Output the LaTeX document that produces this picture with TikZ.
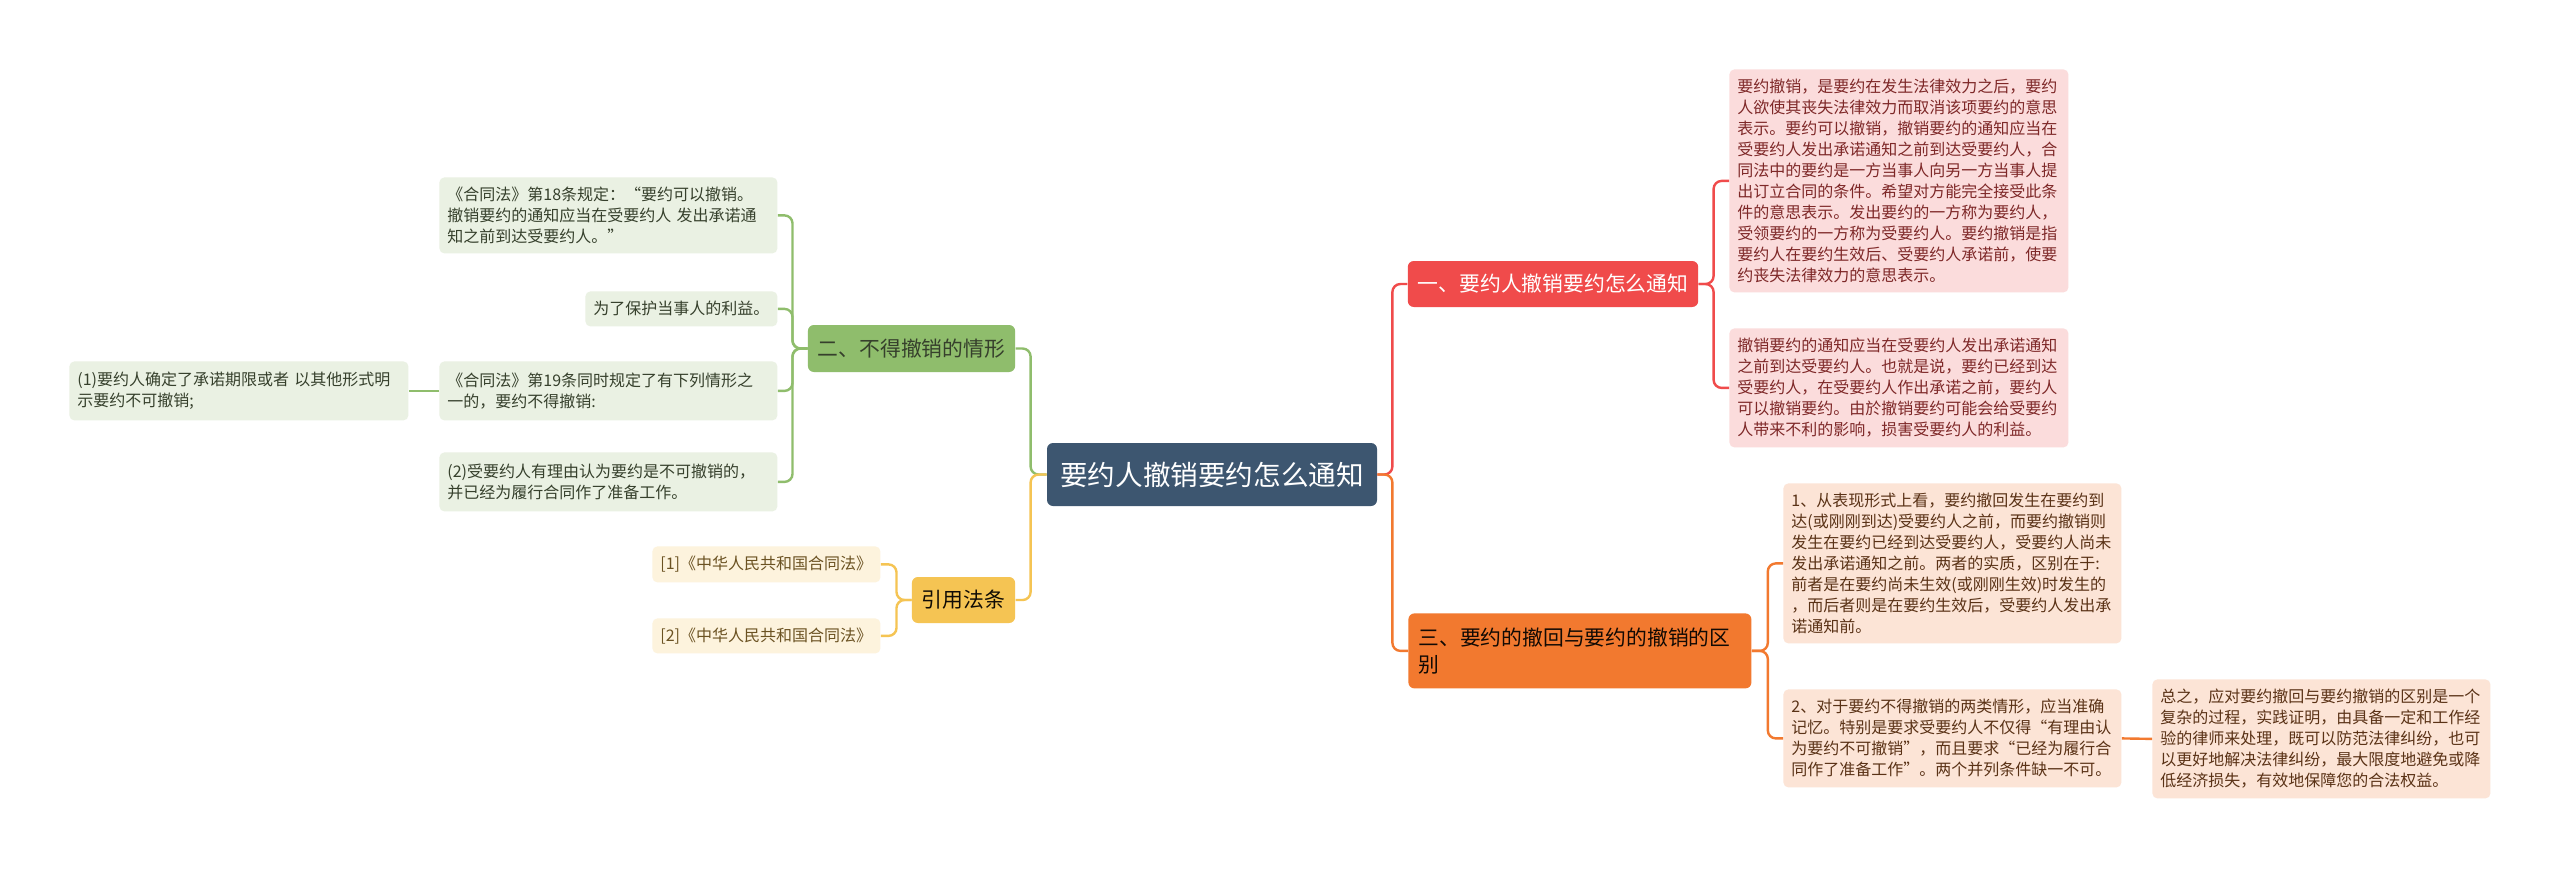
\documentclass[tikz,border=0pt]{standalone}
\usepackage{fontspec}
\setmainfont{Noto Sans CJK SC}
\usetikzlibrary{positioning}
\definecolor{rootcol}{HTML}{3D5670}
\definecolor{redcol}{HTML}{F04B4B}
\definecolor{redleaf}{HTML}{FBDCDC}
\definecolor{redtxt}{HTML}{7E2828}
\definecolor{orgcol}{HTML}{F2792F}
\definecolor{orgleaf}{HTML}{FCE4D6}
\definecolor{orgtxt}{HTML}{5A3216}
\definecolor{grncol}{HTML}{8FBD6C}
\definecolor{grnleaf}{HTML}{EAF1E3}
\definecolor{grntxt}{HTML}{36402C}
\definecolor{ylwcol}{HTML}{F5C453}
\definecolor{ylwleaf}{HTML}{FDF3DD}
\definecolor{ylwtxt}{HTML}{6B5222}
\newcommand{\leaffont}{\fontsize{8pt}{10.5pt}\selectfont}
\newcommand{\topicfont}{\fontsize{10.4pt}{13.5pt}\selectfont}
\tikzset{
  rootnode/.style={rectangle,fill=rootcol,text=white,rounded corners=3pt,
    minimum width=165pt,minimum height=31.5pt,font=\fontsize{13.8pt}{16pt}\selectfont},
  topic/.style={rectangle,rounded corners=3pt,inner xsep=5pt,inner ysep=2pt,font=\topicfont},
  leaf/.style={rectangle,rounded corners=2.5pt,inner xsep=4pt,inner ysep=2pt,
    align=left,font=\leaffont},
  rleaf/.style={leaf,fill=redleaf,text=redtxt},
  oleaf/.style={leaf,fill=orgleaf,text=orgtxt},
  gleaf/.style={leaf,fill=grnleaf,text=grntxt},
  yleaf/.style={leaf,fill=ylwleaf,text=ylwtxt},
  link/.style={line width=1.2pt,rounded corners=4pt},
}

\begin{document}
\begin{tikzpicture}[x=0.5pt,y=-0.5pt]
  \useasboundingbox[fill=white] (0,0) rectangle (2560,868);
  % centre
  \node[rootnode] (root) at (1212,474.5) {要约人撤销要约怎么通知};
  % right side
  \node[topic,fill=redcol,text=white,minimum width=145pt,minimum height=23pt] (red) at (1553,284)
       {一、要约人撤销要约怎么通知};
  \node[topic,fill=orgcol,text=black!80!orgtxt,text width=161.5pt,align=left,minimum height=37.5pt,
        anchor=north west] (org) at (1408,613)
       {三、要约的撤回与要约的撤销的区\\别};
  \node[rleaf,text width=161.5pt,minimum height=111.5pt,anchor=north west] (red1) at (1729,69)
       {要约撤销，是要约在发生法律效力之后，要约\\
        人欲使其丧失法律效力而取消该项要约的意思\\
        表示。要约可以撤销，撤销要约的通知应当在\\
        受要约人发出承诺通知之前到达受要约人，合\\
        同法中的要约是一方当事人向另一方当事人提\\
        出订立合同的条件。希望对方能完全接受此条\\
        件的意思表示。发出要约的一方称为要约人，\\
        受领要约的一方称为受要约人。要约撤销是指\\
        要约人在要约生效后、受要约人承诺前，使要\\
        约丧失法律效力的意思表示。};
  \node[rleaf,text width=161.5pt,minimum height=59.5pt,anchor=north west] (red2) at (1729,328)
       {撤销要约的通知应当在受要约人发出承诺通知\\
        之前到达受要约人。也就是说，要约已经到达\\
        受要约人，在受要约人作出承诺之前，要约人\\
        可以撤销要约。由於撤销要约可能会给受要约\\
        人带来不利的影响，损害受要约人的利益。};
  \node[oleaf,text width=161pt,minimum height=80pt,anchor=north west] (org1) at (1783,483)
       {1、从表现形式上看，要约撤回发生在要约到\\
        达(或刚刚到达)受要约人之前，而要约撤销则\\
        发生在要约已经到达受要约人，受要约人尚未\\
        发出承诺通知之前。两者的实质，区别在于:\\
        前者是在要约尚未生效(或刚刚生效)时发生的\\
        ，而后者则是在要约生效后，受要约人发出承\\
        诺通知前。};
  \node[oleaf,text width=161pt,minimum height=49pt,anchor=north west] (org2) at (1783,689)
       {2、对于要约不得撤销的两类情形，应当准确\\
        记忆。特别是要求受要约人不仅得“有理由认\\
        为要约不可撤销”，而且要求“已经为履行合\\
        同作了准备工作”。两个并列条件缺一不可。};
  \node[oleaf,text width=161pt,minimum height=59.5pt,anchor=north west] (org3) at (2152,679)
       {总之，应对要约撤回与要约撤销的区别是一个\\
        复杂的过程，实践证明，由具备一定和工作经\\
        验的律师来处理，既可以防范法律纠纷，也可\\
        以更好地解决法律纠纷，最大限度地避免或降\\
        低经济损失，有效地保障您的合法权益。};
  % left side
  \node[topic,fill=grncol,text=grntxt,minimum width=103.5pt,minimum height=23.5pt] (grn) at (911.5,348.5)
       {二、不得撤销的情形};
  \node[topic,fill=ylwcol,text=black!85!ylwtxt,minimum width=51.5pt,minimum height=23pt] (ylw) at (963.5,600)
       {引用法条};
  \node[gleaf,text width=161pt,minimum height=38pt,anchor=north west] (grn1) at (439,177)
       {《合同法》第18条规定：“要约可以撤销。\\
        撤销要约的通知应当在受要约人 发出承诺通\\
        知之前到达受要约人。”};
  \node[gleaf,text width=88pt,minimum height=17.5pt,anchor=north west] (grn2) at (585,291)
       {为了保护当事人的利益。};
  \node[gleaf,text width=161pt,minimum height=29.5pt,anchor=north west] (grn3) at (439,361)
       {《合同法》第19条同时规定了有下列情形之\\
        一的，要约不得撤销:};
  \node[gleaf,text width=161pt,minimum height=29.5pt,anchor=north west] (grn4) at (439,452)
       {(2)受要约人有理由认为要约是不可撤销的，\\
        并已经为履行合同作了准备工作。};
  \node[gleaf,text width=161.5pt,minimum height=29.5pt,anchor=north west] (grn0) at (69,361)
       {(1)要约人确定了承诺期限或者 以其他形式明\\
        示要约不可撤销;};
  \node[yleaf,text width=106pt,minimum height=18pt,anchor=north west] (ylw1) at (652,546)
       {[1]《中华人民共和国合同法》};
  \node[yleaf,text width=106pt,minimum height=17.5pt,anchor=north west] (ylw2) at (652,618)
       {[2]《中华人民共和国合同法》};
  % connectors
  \draw[link,redcol] (root.east) -- ++(15,0) |- (red.west);
  \draw[link,orgcol] (root.east) -- ++(15,0) |- (org.west);
  \draw[link,grncol] (root.west) -- ++(-16,0) |- (grn.east);
  \draw[link,ylwcol] (root.west) -- ++(-16,0) |- (ylw.east);
  \foreach \n in {red1,red2}
    \draw[link,redcol] (red.east) -- ++(15,0) |- (\n.west);
  \foreach \n in {org1,org2}
    \draw[link,orgcol] (org.east) -- ++(16,0) |- (\n.west);
  \draw[link,orgcol] (org2.east) -- (org3.west);
  \foreach \n in {grn1,grn2,grn3,grn4}
    \draw[link,grncol] (grn.west) -- ++(-15,0) |- (\n.east);
  \draw[link,grncol] (grn3.west) -- (grn0.east);
  \foreach \n in {ylw1,ylw2}
    \draw[link,ylwcol] (ylw.west) -- ++(-15,0) |- (\n.east);
\end{tikzpicture}
\end{document}
